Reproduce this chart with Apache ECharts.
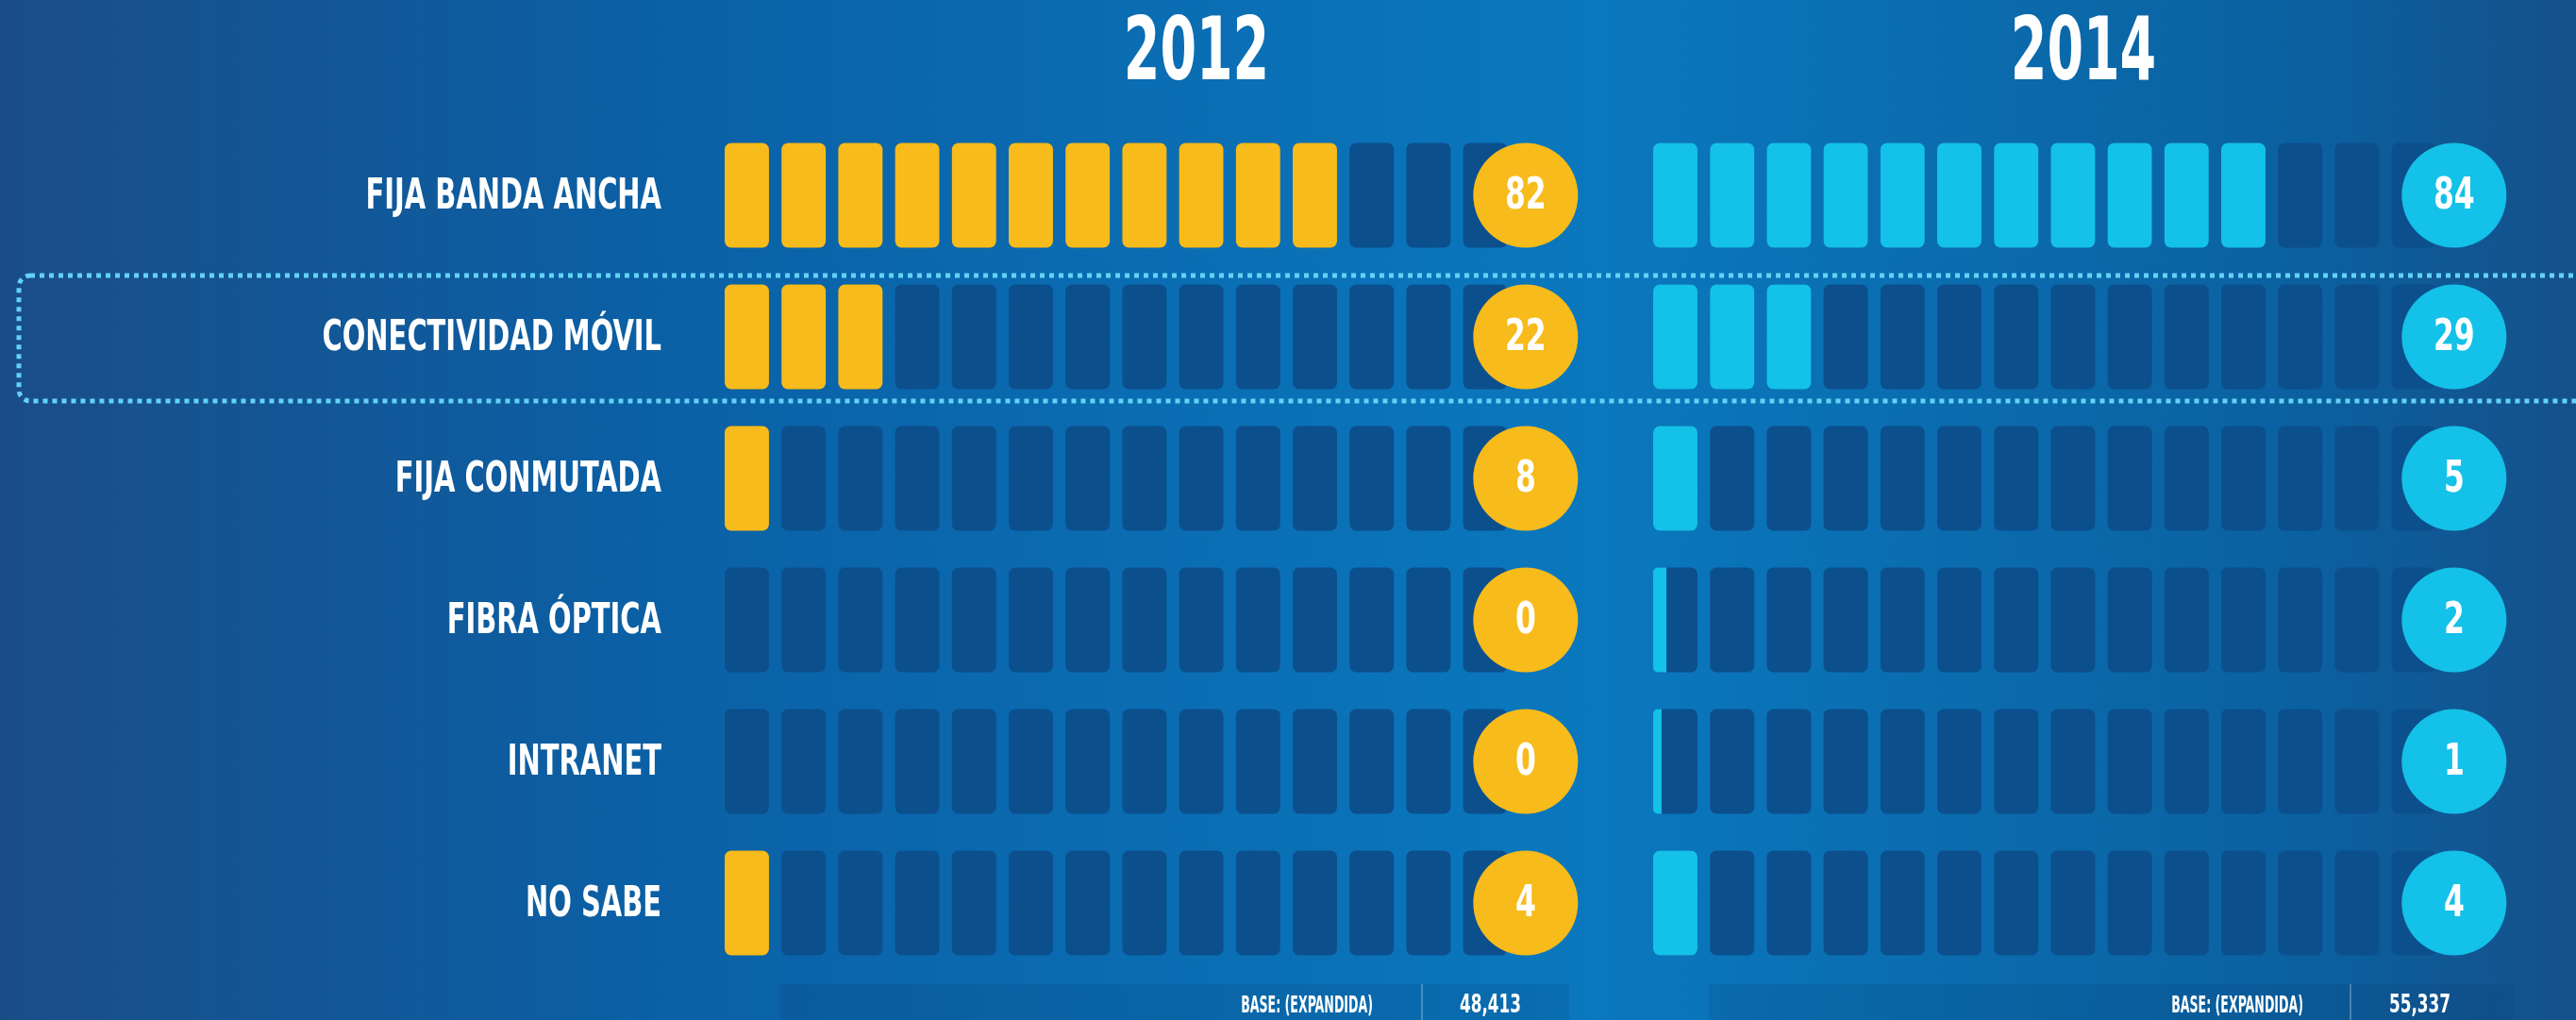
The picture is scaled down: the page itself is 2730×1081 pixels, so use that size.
<!DOCTYPE html>
<html lang="es">
<head>
    <meta charset="UTF-8">
    <title>Tipo de conexión a internet 2012 - 2014</title>
    <script src="https://cdn.jsdelivr.net/npm/echarts@6/dist/echarts.min.js"></script>
    <style>
        html, body { margin: 0; padding: 0; background: #0a64a8; }
        #chart { width: 2730px; height: 1081px; }
    </style>
</head>
<body>
    <div id="chart"></div>

    <script>
        // Datos
        var categories = ['FIJA BANDA ANCHA', 'CONECTIVIDAD MÓVIL', 'FIJA CONMUTADA', 'FIBRA ÓPTICA', 'INTRANET', 'NO SABE'];
        var years = ['2012', '2014'];
        var pct2012 = [82, 22, 8, 0, 0, 4];
        var pct2014 = [84, 29, 5, 2, 1, 4];
        // celdas coloreadas tal como aparecen en la imagen (de 14)
        var cells2012 = [11, 3, 1, 0, 0, 1];
        var cells2014 = [11, 3, 1, 0.3, 0.19, 1];
        var bases = ['48,413', '55,337'];

        var TOTAL_CELLS = 14;
        var CELL_W = 0.78;     // ancho de celda en unidades del eje
        var ROW_H = 0.74;      // alto de celda respecto a la banda
        var CIRCLE_AT = 14.1;
        var DARK = '#0c4f8d';
        var YELLOW = '#f7bb1b';
        var CYAN = '#14c1e8';
        var FONT = "'DejaVu Sans Condensed', 'DejaVu Sans', sans-serif";

        var chart = echarts.init(document.getElementById('chart'));

        function cellRenderer(color, withNames) {
            return function (params, api) {
                var row = api.value(0);
                var filled = api.value(1);
                var pct = api.value(2);
                var unit = api.size([1, 1]);
                var cw = unit[0] * CELL_W;
                var bh = unit[1] * ROW_H;
                var children = [];
                var start = api.coord([0, row]);
                if (withNames) {
                    // nombre de la categoría, condensado como en el original
                    children.push({
                        type: 'text',
                        x: start[0] - 67, y: start[1] + 2,
                        scaleX: 0.715,
                        style: {
                            text: categories[row], fill: '#ffffff', fontSize: 45, fontWeight: 'bold',
                            fontFamily: FONT, align: 'right', verticalAlign: 'middle'
                        }
                    });
                }
                for (var i = 0; i < TOTAL_CELLS; i++) {
                    var p = api.coord([i, row]);
                    children.push({
                        type: 'rect',
                        shape: { x: p[0], y: p[1] - bh / 2, width: cw, height: bh, r: 7 },
                        style: { fill: DARK }
                    });
                    var f = Math.min(1, Math.max(0, filled - i));
                    if (f > 0) {
                        children.push({
                            type: 'rect',
                            shape: { x: p[0], y: p[1] - bh / 2, width: cw * f, height: bh, r: f < 1 ? [5, 0, 0, 5] : 7 },
                            style: { fill: color }
                        });
                    }
                }
                var c = api.coord([CIRCLE_AT, row]);
                children.push({
                    type: 'circle',
                    shape: { cx: c[0], cy: c[1], r: bh / 2 },
                    style: { fill: color }
                });
                children.push({
                    type: 'text',
                    x: c[0], y: c[1] + 2,
                    scaleX: 0.76,
                    style: {
                        text: String(pct), fill: '#ffffff', fontSize: 46, fontWeight: 'bold',
                        fontFamily: FONT, align: 'center', verticalAlign: 'middle'
                    }
                });
                return { type: 'group', children: children };
            };
        }

        function rows(cells, pct) {
            return categories.map(function (c, i) { return [i, cells[i], pct[i]]; });
        }

        function smallText(text, x, align, size, sx) {
            return {
                type: 'text', x: x, y: 1066, scaleX: sx,
                style: {
                    text: text, fill: '#ffffff', fontSize: size, fontWeight: 'bold',
                    fontFamily: FONT, align: align, verticalAlign: 'middle'
                }
            };
        }

        var option = {
            backgroundColor: {
                type: 'linear', x: 0, y: 0, x2: 1, y2: 0,
                colorStops: [
                    { offset: 0, color: '#1a4d88' },
                    { offset: 0.25, color: '#0b60a5' },
                    { offset: 0.62, color: '#0a78be' },
                    { offset: 0.9, color: '#0b609f' },
                    { offset: 1, color: '#15508a' }
                ]
            },
            grid: [
                { left: 768, top: 132, width: 903, height: 900 },
                { left: 1752, top: 132, width: 903, height: 900 }
            ],
            xAxis: [
                { gridIndex: 0, type: 'value', min: 0, max: 15, show: false },
                { gridIndex: 1, type: 'value', min: 0, max: 15, show: false }
            ],
            yAxis: [
                { gridIndex: 0, type: 'category', data: categories, inverse: true, show: false },
                { gridIndex: 1, type: 'category', data: categories, inverse: true, show: false }
            ],
            graphic: [
                {
                    type: 'rect', z: 0,
                    shape: { x: 20, y: 292, width: 2760, height: 133, r: 12 },
                    style: { fill: 'none', stroke: '#62d2f6', lineWidth: 5, lineDash: [5, 5] }
                },
                {
                    type: 'rect', z: -1,
                    shape: { x: 827, y: 1043, width: 836, height: 38 },
                    style: { fill: 'rgba(5,50,100,0.14)' }
                },
                {
                    type: 'rect', z: -1,
                    shape: { x: 1811, y: 1043, width: 853, height: 38 },
                    style: { fill: 'rgba(5,50,100,0.14)' }
                },
                {
                    type: 'text', x: 1268, y: 60, scaleX: 0.67,
                    style: {
                        text: years[0], fill: '#ffffff', fontSize: 92, fontWeight: 'bold',
                        fontFamily: FONT, align: 'center', verticalAlign: 'middle'
                    }
                },
                {
                    type: 'text', x: 2208, y: 60, scaleX: 0.67,
                    style: {
                        text: years[1], fill: '#ffffff', fontSize: 92, fontWeight: 'bold',
                        fontFamily: FONT, align: 'center', verticalAlign: 'middle'
                    }
                },
                smallText('BASE: (EXPANDIDA)', 1455, 'right', 25, 0.56),
                {
                    type: 'line',
                    shape: { x1: 1507, y1: 1043, x2: 1507, y2: 1081 },
                    style: { stroke: 'rgba(255,255,255,0.25)', lineWidth: 2 }
                },
                smallText(bases[0], 1547, 'left', 26, 0.72),
                smallText('BASE: (EXPANDIDA)', 2441, 'right', 25, 0.56),
                {
                    type: 'line',
                    shape: { x1: 2491, y1: 1043, x2: 2491, y2: 1081 },
                    style: { stroke: 'rgba(255,255,255,0.25)', lineWidth: 2 }
                },
                smallText(bases[1], 2532, 'left', 26, 0.72)
            ],
            series: [
                {
                    name: years[0], type: 'custom', xAxisIndex: 0, yAxisIndex: 0,
                    renderItem: cellRenderer(YELLOW, true),
                    encode: { x: 1, y: 0 },
                    data: rows(cells2012, pct2012)
                },
                {
                    name: years[1], type: 'custom', xAxisIndex: 1, yAxisIndex: 1,
                    renderItem: cellRenderer(CYAN, false),
                    encode: { x: 1, y: 0 },
                    data: rows(cells2014, pct2014)
                }
            ]
        };

        chart.setOption(option);
    </script>
</body>
</html>
